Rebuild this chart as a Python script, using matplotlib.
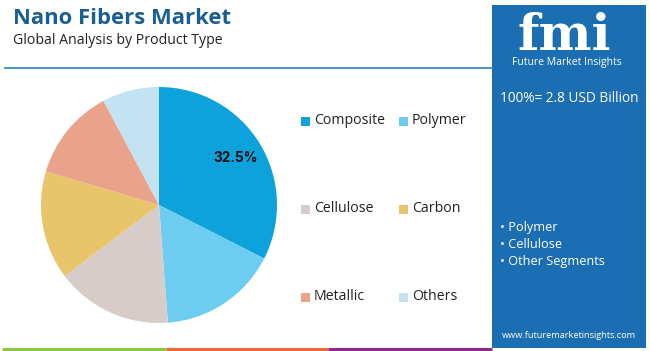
import matplotlib
matplotlib.use("Agg")
import matplotlib.pyplot as plt
from matplotlib.patches import Rectangle

categories = ["Composite", "Polymer", "Cellulose", "Carbon", "Metallic", "Others"]
shares = [32.5, 16.3, 15.9, 14.9, 12.6, 7.8]
colors = ["#0ea2dc", "#6ccdf0", "#d6cdcb", "#e8c56a", "#e9a38b", "#c3e3f3"]
title = "Nano Fibers Market"
subtitle = "Global Analysis by Product Type"
total_label = "100%= 2.8 USD Billion"
bullets = ["Polymer", "Cellulose", "Other Segments"]
website = "www.futuremarketinsights.com"

W, H = 650, 351
fig = plt.figure(figsize=(W / 100, H / 100), dpi=100)
fig.patch.set_facecolor("white")
plt.rcParams["font.family"] = ["Lato", "DejaVu Sans"]
OS = ["Open Sans", "DejaVu Sans"]


def fx(x):
    return x / W


def fy(y):
    return 1 - y / H


# Title
fig.text(fx(13), fy(18), title, fontsize=15.8, fontweight="bold", color="#1a5f91",
         va="center", ha="left", family=OS)
fig.text(fx(13), fy(40), subtitle, fontsize=10.2, color="#222222", va="center", ha="left",
         family=OS)
# header line
fig.add_artist(plt.Line2D([fx(5), fx(492)], [fy(68), fy(68)], color="#3d88c2", lw=1.3,
                          transform=fig.transFigure))

# Pie
cx, cy, r = 159, 205, 118
ax = fig.add_axes([fx(cx - r), fy(cy + r), (2 * r) / W, (2 * r) / H])
wedges, texts, autotexts = ax.pie(shares, colors=colors, startangle=90, counterclock=False,
                                  autopct="%1.1f%%", pctdistance=0.76,
                                  wedgeprops=dict(linewidth=0),
                                  textprops=dict(fontsize=9.8, fontweight="bold", color="#111111"))
for i, t in enumerate(autotexts):
    if i != 0:
        t.set_visible(False)
    else:
        t.set_family(["Inter", "DejaVu Sans"])
ax.set_xlim(-1, 1)
ax.set_ylim(-1, 1)
ax.set_aspect("equal")
ax.axis("off")

# Legend
col_x = [301, 399]
row_y = [121, 209, 297]
for i, (cat, col) in enumerate(zip(categories, colors)):
    x = col_x[i % 2]
    y = row_y[i // 2]
    fig.add_artist(Rectangle((fx(x), fy(y + 4.5)), 9 / W, 9 / H, transform=fig.transFigure,
                             facecolor=col, edgecolor="none"))
    fig.text(fx(x + 13), fy(y), cat, fontsize=10.2, color="#222222", va="center", ha="left",
             family=OS)

# Right panel
panel_color = "#1a6eb1"
fig.add_artist(Rectangle((fx(492), fy(348)), (646 - 492) / W, (348 - 5) / H,
                         transform=fig.transFigure, facecolor=panel_color, edgecolor="none"))
# logo
fig.text(fx(564), fy(36), "fmi", fontsize=36, fontweight="bold", color="white", ha="center",
         va="center", family=["DejaVu Serif"])
for yy in range(18, 58, 4):
    fig.add_artist(plt.Line2D([fx(512), fx(620)], [fy(yy), fy(yy)], color=panel_color, lw=1.0,
                              transform=fig.transFigure))
fig.text(fx(567), fy(63), "Future Market Insights", fontsize=7.5, color="white", ha="center",
         va="center", family=OS)
fig.text(fx(569), fy(98), total_label, fontsize=9.8, color="white", ha="center", va="center",
         family=OS)
for i, b in enumerate(bullets):
    fig.text(fx(500), fy(227 + 17.5 * i), "\u2022 " + b, fontsize=9.2, color="white", ha="left",
             va="center", family=OS)
fig.text(fx(569), fy(336), website, fontsize=6.6, color="white", ha="center", va="center",
         family=OS)

# bottom colored lines
for x0, x1, c in [(2, 166, "#8dc63f"), (166, 328, "#ef6a3a"), (328, 492, "#93278f")]:
    fig.add_artist(plt.Line2D([fx(x0), fx(x1)], [fy(348.5), fy(348.5)], color=c, lw=2.2,
                              transform=fig.transFigure, solid_capstyle="butt"))

fig.savefig("out.png", dpi=100, facecolor="white")
